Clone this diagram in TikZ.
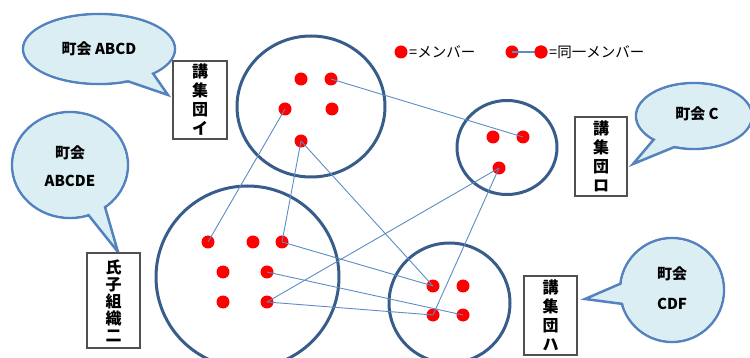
\documentclass[tikz,border=0pt]{standalone}
\usepackage{fontspec}
\setmainfont{Noto Sans CJK JP}
\definecolor{ringc}{RGB}{56,93,138}
\definecolor{linkc}{RGB}{92,140,196}
\definecolor{callb}{RGB}{84,130,190}
\definecolor{callf}{RGB}{219,238,244}
\definecolor{boxc}{RGB}{80,80,80}
\newcommand\mkcallout[5]{%
  \filldraw[calloutshape] (#1,#2) ellipse [x radius=#3pt, y radius=#4pt];
  \filldraw[calloutshape] #5;
  \fill[callf] (#1,#2) ellipse [x radius=#3pt-1.4pt, y radius=#4pt-1.4pt];
}
\begin{document}
\begin{tikzpicture}[x=1pt,y=-1pt,
  ring/.style={draw=ringc, line width=3pt},
  link/.style={draw=linkc, line width=0.9pt},
  member/.style={circle, fill=red, minimum size=13pt, inner sep=0pt},
  calloutshape/.style={draw=callb, fill=callf, line width=2.5pt, line join=miter},
  calltext/.style={font=\fontsize{15}{28}\selectfont\bfseries, align=center, inner sep=0pt},
  grouplabel/.style={draw=boxc, line width=1.1pt, fill=white, align=center, inner sep=0pt,
    font=\fontsize{16}{19}\selectfont\bfseries},
  legendtext/.style={font=\fontsize{14.5}{16}\selectfont, anchor=west, inner sep=0pt}]
\useasboundingbox (0,0) rectangle (750,358);
\clip (0,0) rectangle (750,358);

% callouts
\mkcallout{99}{49}{76}{35}{(145.6,62.8) -- (168,95) -- (118.6,78.1) -- cycle}
\node[calltext] (cABCD) at (99,49) {町会 ABCD};
\mkcallout{70}{165}{58}{53}{(76.4,200) -- (118,252) -- (101.1,193.5) -- cycle}
\node[calltext] (cABCDE) at (70,166) {町会\\ABCDE};
\mkcallout{694}{116}{58}{33}{(663.8,127.6) -- (633,164) -- (687.6,141.6) -- cycle}
\node[calltext] (cC) at (697,114) {町会 C};
\mkcallout{672}{290}{52}{52}{(636.8,276.6) -- (585,299) -- (638.2,306) -- cycle}
\node[calltext, font=\fontsize{15}{30}\selectfont\bfseries] (cCDF) at (672,288) {町会\\CDF};

% group labels
\node[grouplabel, minimum width=54pt, minimum height=78pt] (gI) at (200,100) {講\\集\\団\\イ};
\node[grouplabel, minimum width=52pt, minimum height=79pt] (gRo) at (601,156.5) {講\\集\\団\\ロ};
\node[grouplabel, minimum width=53pt, minimum height=79pt] (gHa) at (550.5,315.5) {講\\集\\団\\ハ};
\node[grouplabel, minimum width=53pt, minimum height=95pt, font=\fontsize{16}{17}\selectfont\bfseries] (gNi) at (113.5,300.5) {氏\\子\\組\\織\\二};

% rings
\draw[ring] (311,106.5) ellipse [x radius=74pt, y radius=70.5pt];
\draw[ring] (507,147.5) ellipse [x radius=50pt, y radius=47pt];
\draw[ring] (247.5,277) ellipse [x radius=91.5pt, y radius=91pt];
\draw[ring] (449.5,303) ellipse [x radius=60.5pt, y radius=60pt];

% members
\node[member] (i1) at (301,79) {};
\node[member] (i2) at (331,79) {};
\node[member] (i3) at (285,109) {};
\node[member] (i4) at (332,109) {};
\node[member] (i5) at (301,141) {};
\node[member] (r1) at (493,137) {};
\node[member] (r2) at (523,137) {};
\node[member] (r3) at (499,168) {};
\node[member] (n1) at (208,242) {};
\node[member] (n2) at (253,242) {};
\node[member] (n3) at (282,242) {};
\node[member] (n4) at (223,272) {};
\node[member] (n5) at (267,272) {};
\node[member] (n6) at (223,302) {};
\node[member] (n7) at (267,302) {};
\node[member] (h1) at (433,286) {};
\node[member] (h2) at (463,286) {};
\node[member] (h3) at (433,315) {};
\node[member] (h4) at (463,315) {};

% links
\draw[link] (i2.center) -- (r2.center);
\draw[link] (i3.center) -- (n1.center);
\draw[link] (i5.center) -- (n3.center);
\draw[link] (i5.center) -- (h1.center);
\draw[link] (n3.center) -- (h1.center);
\draw[link] (n5.center) -- (h4.center);
\draw[link] (n7.center) -- (h3.center);
\draw[link] (n7.center) -- (r3.center);
\draw[link] (h3.center) -- (r3.center);

% legend
\node[member] (l1) at (401,52) {};
\node[legendtext] (lt1) at (409,52) {=メンバー};
\node[member] (l2) at (512,52) {};
\node[member] (l3) at (541,52) {};
\draw[link, line width=1.5pt] (l2.center) -- (l3.center);
\node[member] at (541,52) {};
\node[legendtext] (lt2) at (549,52) {=同一メンバー};
\end{tikzpicture}
\end{document}
